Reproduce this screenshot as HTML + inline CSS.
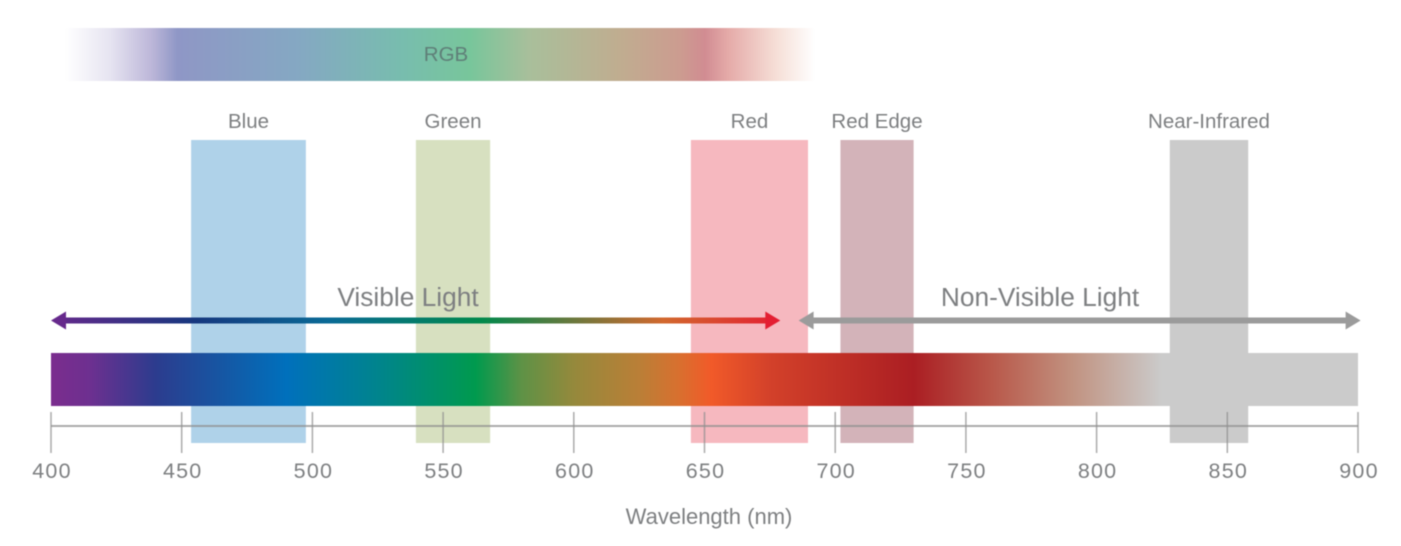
<!DOCTYPE html>
<html lang="en">
<head>
<meta charset="utf-8">
<title>Wavelength bands chart</title>
<style>
  html, body { margin: 0; padding: 0; background: #ffffff; }
  #chart { display: block; width: 1401px; height: 546px; filter: blur(0.5px); }
  text { font-family: "Liberation Sans", sans-serif; fill: #7d7f81; }
</style>
</head>
<body>
<svg id="chart" xmlns="http://www.w3.org/2000/svg" width="1401" height="546" viewBox="0 0 1401 546">
  <defs>
    <linearGradient id="rgbGrad" gradientUnits="userSpaceOnUse" x1="65" x2="815" y1="0" y2="0">
      <stop offset="0" stop-color="#ffffff"/>
      <stop offset="0.06" stop-color="#e6e4f1"/>
      <stop offset="0.115" stop-color="#bdb7d9"/>
      <stop offset="0.15" stop-color="#8f97c6"/>
      <stop offset="0.31" stop-color="#85a8c3"/>
      <stop offset="0.45" stop-color="#78bdae"/>
      <stop offset="0.54" stop-color="#78c69b"/>
      <stop offset="0.62" stop-color="#a9bf9b"/>
      <stop offset="0.74" stop-color="#c0ad90"/>
      <stop offset="0.82" stop-color="#cc9c90"/>
      <stop offset="0.853" stop-color="#d18c92"/>
      <stop offset="0.885" stop-color="#e5aba9"/>
      <stop offset="0.95" stop-color="#f6e0d8"/>
      <stop offset="1" stop-color="#ffffff"/>
    </linearGradient>
    <linearGradient id="spectrumGrad" gradientUnits="userSpaceOnUse" x1="51" x2="1358" y1="0" y2="0">
      <stop offset="0" stop-color="#7b2d8e"/>
      <stop offset="0.03" stop-color="#6d3090"/>
      <stop offset="0.08" stop-color="#2c3c8e"/>
      <stop offset="0.13" stop-color="#1656a3"/>
      <stop offset="0.18" stop-color="#0070bc"/>
      <stop offset="0.25" stop-color="#00848d"/>
      <stop offset="0.325" stop-color="#009a4e"/>
      <stop offset="0.36" stop-color="#5e9246"/>
      <stop offset="0.40" stop-color="#95893c"/>
      <stop offset="0.45" stop-color="#ba7f37"/>
      <stop offset="0.48" stop-color="#d8702f"/>
      <stop offset="0.505" stop-color="#f15a29"/>
      <stop offset="0.55" stop-color="#d3412a"/>
      <stop offset="0.66" stop-color="#ab1e23"/>
      <stop offset="0.72" stop-color="#b9584a"/>
      <stop offset="0.78" stop-color="#c1917f"/>
      <stop offset="0.85" stop-color="#cbcbcb"/>
      <stop offset="1" stop-color="#cbcbcb"/>
    </linearGradient>
    <linearGradient id="visibleGrad" gradientUnits="userSpaceOnUse" x1="51" x2="780" y1="0" y2="0">
      <stop offset="0" stop-color="#66298c"/>
      <stop offset="0.2" stop-color="#16387f"/>
      <stop offset="0.38" stop-color="#0a6a96"/>
      <stop offset="0.59" stop-color="#00894c"/>
      <stop offset="0.84" stop-color="#d2682e"/>
      <stop offset="1" stop-color="#e41e32"/>
    </linearGradient>
  </defs>
  <g id="bands-layer"></g>
  <rect x="65" y="28" width="750" height="53" fill="url(#rgbGrad)"/>
  <text x="446" y="61" font-size="20.5" text-anchor="middle" style="fill:#5f7f78">RGB</text>
  <rect x="51" y="353" width="1307" height="53" fill="url(#spectrumGrad)"/>
  <g id="axis-layer"></g>
  <g id="arrow-layer"></g>
  <text x="709" y="524" font-size="22" text-anchor="middle">Wavelength (nm)</text>
</svg>
<script>
const bandNames = ["Blue", "Green", "Red", "Red Edge", "Near-Infrared"];
const bandStart = [453.6, 539.6, 644.8, 702, 828];
const bandEnd = [497.5, 568, 689.6, 730, 858];
const bandColors = ["#afd2e9", "#d7e0c0", "#f6b8bf", "#d3b3b9", "#cbcbcb"];
const tickValues = [400, 450, 500, 550, 600, 650, 700, 750, 800, 850, 900];
const rangeNames = ["Visible Light", "Non-Visible Light"];
const rangeStart = [400, 686];
const rangeEnd = [679, 901];

const SVG_NS = "http://www.w3.org/2000/svg";
function x(nm) { return 51 + (nm - 400) * (1307 / 500); }
function make(tag, attrs, parent) {
  const el = document.createElementNS(SVG_NS, tag);
  for (const k in attrs) el.setAttribute(k, attrs[k]);
  parent.appendChild(el);
  return el;
}
const bandsLayer = document.getElementById("bands-layer");
const axisLayer = document.getElementById("axis-layer");
const arrowLayer = document.getElementById("arrow-layer");

bandNames.forEach(function (name, i) {
  const rect = make("rect", { x: x(bandStart[i]), y: 140, width: x(bandEnd[i]) - x(bandStart[i]), height: 303, fill: bandColors[i] }, bandsLayer);
  
  
  const label = make("text", { x: (x(bandStart[i]) + x(bandEnd[i])) / 2, y: 128, "font-size": 20.5, "text-anchor": "middle" }, bandsLayer);
  label.textContent = name;
  
  
});

const axisLine = make("line", { x1: x(400), x2: x(900), y1: 426, y2: 426, stroke: "#8f8f8f", "stroke-opacity": 0.75, "stroke-width": 2 }, axisLayer);



tickValues.forEach(function (v) {
  const tick = make("line", { x1: x(v), x2: x(v), y1: 412, y2: 453, stroke: "#8f8f8f", "stroke-opacity": 0.75, "stroke-width": 1.5 }, axisLayer);
  
  
  const label = make("text", { x: x(v) + 1, y: 478, "font-size": 21.5, "text-anchor": "middle", "letter-spacing": 1.2 }, axisLayer);
  label.textContent = String(v);
  
  
});

rangeNames.forEach(function (name, i) {
  const x1 = x(rangeStart[i]);
  const x2 = x(rangeEnd[i]);
  const paint = i === 0 ? "url(#visibleGrad)" : "#9b9b9b";
  const headLeft = i === 0 ? "#66298c" : "#9b9b9b";
  const headRight = i === 0 ? "#e41e32" : "#9b9b9b";
  const y = 320.5;
  const shaft = make("rect", { x: x1 + 10, y: y - 3, width: x2 - x1 - 20, height: 6, fill: paint }, arrowLayer);
  
  
  const left = make("polygon", { points: x1 + "," + y + " " + (x1 + 15) + "," + (y - 9) + " " + (x1 + 15) + "," + (y + 9), fill: headLeft }, arrowLayer);
  
  
  const right = make("polygon", { points: x2 + "," + y + " " + (x2 - 15) + "," + (y - 9) + " " + (x2 - 15) + "," + (y + 9), fill: headRight }, arrowLayer);
  
  
  const label = make("text", { x: i === 0 ? 408 : 1040, y: 306, "font-size": 26.3, "text-anchor": "middle" }, arrowLayer);
  label.textContent = name;
  
  
});
</script>
</body>
</html>
